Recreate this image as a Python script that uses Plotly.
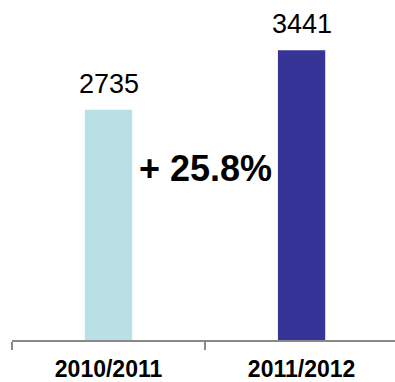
import plotly.graph_objects as go

# Visitor totals per season
seasons = ["2010/2011", "2011/2012"]
visitors = [2735, 3441]
bar_colors = ["#B9E0E4", "#363496"]

growth = (visitors[1] / visitors[0] - 1) * 100

fig = go.Figure()
fig.add_trace(go.Bar(
    x=seasons,
    y=visitors,
    width=0.245,
    marker=dict(color=bar_colors, line=dict(width=0)),
    hoverinfo="skip",
))

# Value labels above each bar
for s, v in zip(seasons, visitors):
    fig.add_annotation(
        x=s, y=v, xref="x", yref="y",
        text=f"{v}", showarrow=False,
        yanchor="bottom", yshift=9,
        font=dict(family="Liberation Sans, Arial, sans-serif", size=27, color="#000000"),
    )

# Growth between the two seasons
fig.add_annotation(
    x=0.5, y=2040, xref="x", yref="y",
    text=f"<b>+ {growth:.1f}%</b>", showarrow=False,
    font=dict(family="Liberation Sans, Arial, sans-serif", size=36, color="#000000"),
)

fig.update_layout(
    width=395, height=382,
    margin=dict(l=12, r=0, t=0, b=38),
    paper_bgcolor="white", plot_bgcolor="white",
    showlegend=False,
    xaxis=dict(
        type="category",
        range=[-0.5, 1.484],
        tickson="boundaries",
        ticks="outside", ticklen=8, tickwidth=2, tickcolor="#898989",
        showline=True, linecolor="#898989", linewidth=2,
        showgrid=False, zeroline=False,
        tickfont=dict(family="Liberation Sans, Arial, sans-serif", size=23, color="#000000"),
        ticklabelstandoff=7,
    ),
    yaxis=dict(
        range=[0, 4038], visible=False, showgrid=False, zeroline=False,
    ),
)

# Bold season labels
fig.update_xaxes(ticktext=[f"<b>{s}</b>" for s in seasons], tickvals=seasons)

fig.write_html("out.html")
